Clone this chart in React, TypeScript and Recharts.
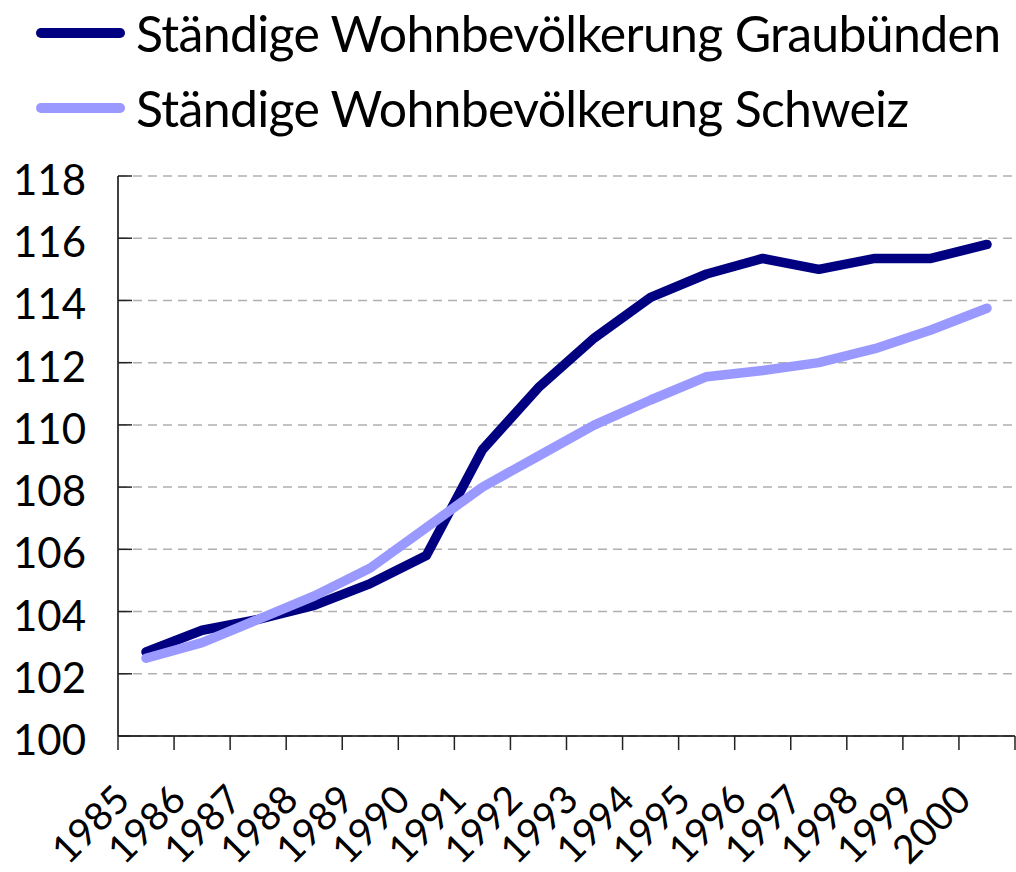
import { LineChart, Line, XAxis, YAxis, CartesianGrid } from "recharts";

const YEARS = [
  "1985", "1986", "1987", "1988", "1989", "1990", "1991", "1992",
  "1993", "1994", "1995", "1996", "1997", "1998", "1999", "2000",
];
const GRAUBUENDEN = [
  102.7, 103.4, 103.75, 104.2, 104.9, 105.8, 109.2, 111.2,
  112.8, 114.1, 114.85, 115.35, 115.0, 115.35, 115.35, 115.8,
];
const SCHWEIZ = [
  102.5, 103.0, 103.75, 104.5, 105.4, 106.7, 108.0, 109.0,
  110.0, 110.8, 111.55, 111.75, 112.0, 112.45, 113.05, 113.75,
];
const Y_TICKS = [100, 102, 104, 106, 108, 110, 112, 114, 116, 118];

const SERIES = [
  { key: "gr", name: "Ständige Wohnbevölkerung Graubünden", color: "#000080" },
  { key: "ch", name: "Ständige Wohnbevölkerung Schweiz", color: "#9999FF" },
];

const data = YEARS.map((year, i) => ({
  year,
  gr: GRAUBUENDEN[i],
  ch: SCHWEIZ[i],
}));

const FONT = "Lato, 'Open Sans', sans-serif";
const W = 1016;
const H = 872;
const M = { top: 176, right: 1, bottom: 0, left: 0 };
const Y_W = 118;
const X_H = 136;
const BAND = (W - M.left - M.right - Y_W) / YEARS.length;

function YTick(props: any) {
  const { x, y, payload } = props;
  return (
    <g>
      <line x1={x} y1={y} x2={x + 14} y2={y} stroke="#222" strokeWidth={1.5} />
      <text
        x={x - 32}
        y={y}
        dy={19}
        textAnchor="end"
        fontSize={42}
        fontFamily={FONT}
        fill="#000"
      >
        {payload.value}
      </text>
    </g>
  );
}

function XTick(props: any) {
  const { x, y, payload, index } = props;
  const left = x - BAND / 2;
  return (
    <g>
      <line x1={left} y1={y} x2={left} y2={y + 14} stroke="#222" strokeWidth={1.5} />
      {index === YEARS.length - 1 && (
        <line x1={x + BAND / 2} y1={y} x2={x + BAND / 2} y2={y + 14} stroke="#222" strokeWidth={1.5} />
      )}
      <text
        transform={`translate(${x - 14},${y + 66}) rotate(-45)`}
        textAnchor="end"
        fontSize={39}
        fontFamily={FONT}
        fill="#000"
      >
        {payload.value}
      </text>
    </g>
  );
}

export default function App() {
  return (
    <div style={{ position: "absolute", left: 0, top: 0, width: W, height: H, background: "#fff" }}>
      <div style={{ position: "absolute", left: 0, top: 0, fontFamily: FONT }}>
        {SERIES.map((s, i) => (
          <div
            key={s.key}
            style={{ position: "absolute", left: 0, top: 2 + i * 75, display: "flex", alignItems: "center", whiteSpace: "nowrap" }}
          >
            <div style={{ marginLeft: 36, width: 89, height: 10, borderRadius: 5, background: s.color }} />
            <span style={{ marginLeft: 11, fontSize: 50, letterSpacing: -0.7, lineHeight: "62px", color: "#000" }}>{s.name}</span>
          </div>
        ))}
      </div>
      <LineChart width={W} height={H} data={data} margin={M}>
        <CartesianGrid vertical={false} stroke="#b0b0b0" strokeDasharray="9 6" strokeWidth={1.5} />
        <XAxis
          dataKey="year"
          scale="band"
          interval={0}
          tickLine={false}
          tickSize={0}
          tickMargin={0}
          axisLine={{ stroke: "#000", strokeWidth: 1.5 }}
          tick={<XTick />}
          height={X_H}
        />
        <YAxis
          domain={[100, 118]}
          ticks={Y_TICKS}
          interval={0}
          width={Y_W}
          tickLine={false}
          tickSize={0}
          tickMargin={0}
          axisLine={{ stroke: "#000", strokeWidth: 1.5 }}
          tick={<YTick />}
        />
        {SERIES.map((s) => (
          <Line
            key={s.key}
            dataKey={s.key}
            name={s.name}
            type="linear"
            stroke={s.color}
            strokeWidth={9.5}
            strokeLinecap="round"
            strokeLinejoin="round"
            dot={false}
            isAnimationActive={false}
          />
        ))}
      </LineChart>
    </div>
  );
}
